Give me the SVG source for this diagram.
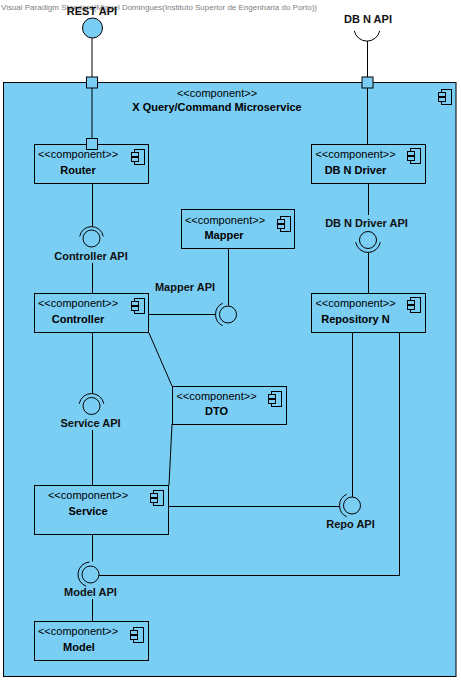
<svg xmlns="http://www.w3.org/2000/svg" xmlns:xlink="http://www.w3.org/1999/xlink" width="461" height="682" viewBox="0 0 461 682">
  <style>
    .box { fill: #7ACEF4; stroke: #000; stroke-width: 1; }
    .port { fill: #7ACEF4; stroke: #000; stroke-width: 1; }
    .ln { fill: none; stroke: #000; stroke-width: 1; }
    .ball { fill: none; stroke: #000; stroke-width: 1; }
    .st { font-family: "Liberation Sans", Arial, sans-serif; font-size: 11px; fill: #000; text-anchor: middle; }
    .nm { font-family: "Liberation Sans", Arial, sans-serif; font-size: 11px; font-weight: bold; fill: #000; text-anchor: middle; }
    .lbl { font-family: "Liberation Sans", Arial, sans-serif; font-size: 11px; font-weight: bold; fill: #111; text-anchor: middle; }
    .wm { font-family: "Liberation Sans", Arial, sans-serif; font-size: 8px; fill: #808080; }
  </style>
  <defs>
    <!-- UML component glyph -->
    <g id="cicon">
      <rect x="3.5" y="0.5" width="10" height="15" class="box"/>
      <rect x="0.5" y="3.5" width="7" height="4" class="box"/>
      <rect x="0.5" y="8.5" width="7" height="4" class="box"/>
    </g>
  </defs>

  <rect width="461" height="682" fill="#ffffff"/>

  <text class="wm" x="1" y="10" textLength="316" lengthAdjust="spacingAndGlyphs">Visual Paradigm Standard(Miguel Domingues(Instituto Superior de Engenharia do Porto))</text>

  <!-- enclosing microservice component -->
  <g id="microservice">
    <rect class="box" x="3.5" y="82.5" width="452.5" height="594"/>
    <use xlink:href="#cicon" x="438" y="89"/>
    <text class="st" x="217" y="97">&lt;&lt;component&gt;&gt;</text>
    <text class="nm" x="217" y="111">X Query/Command Microservice</text>
  </g>

  <!-- connectors -->
  <g id="connectors">
    <!-- REST API -->
    <line class="ln" x1="92" y1="38" x2="92" y2="77"/>
    <line class="ln" x1="92" y1="88" x2="92" y2="139"/>
    <!-- DB N API -->
    <path class="ln" d="M379.7,30.9 A13,13 0 0 1 354.3,30.9"/>
    <line class="ln" x1="367.5" y1="41" x2="367.5" y2="77"/>
    <line class="ln" x1="367.5" y1="88" x2="367.5" y2="144"/>
    <!-- Router - Controller API - Controller -->
    <line class="ln" x1="92.5" y1="183" x2="92.5" y2="226.5"/>
    <line class="ln" x1="92.5" y1="263" x2="92.5" y2="293"/>
    <!-- Controller - Mapper API - Mapper -->
    <line class="ln" x1="149" y1="314.5" x2="216" y2="314.5"/>
    <line class="ln" x1="228.5" y1="248" x2="228.5" y2="305.5"/>
    <!-- DB N Driver - DB N Driver API - Repository N -->
    <line class="ln" x1="368.5" y1="183" x2="368.5" y2="215"/>
    <line class="ln" x1="368.5" y1="252.5" x2="368.5" y2="293"/>
    <!-- Controller - Service API - Service -->
    <line class="ln" x1="92.5" y1="332" x2="92.5" y2="393.5"/>
    <line class="ln" x1="92.5" y1="430" x2="92.5" y2="485"/>
    <!-- DTO links -->
    <line class="ln" x1="149" y1="333" x2="172" y2="386"/>
    <line class="ln" x1="172" y1="424" x2="169" y2="485"/>
    <!-- Service - Repo API - Repository N -->
    <line class="ln" x1="169" y1="506.5" x2="340" y2="506.5"/>
    <line class="ln" x1="352.5" y1="332" x2="352.5" y2="497"/>
    <!-- Service - Model API - Model, Repository N - Model API -->
    <line class="ln" x1="92.5" y1="534" x2="92.5" y2="561.5"/>
    <polyline class="ln" points="399.5,332 399.5,575.5 99,575.5"/>
    <line class="ln" x1="92.5" y1="599" x2="92.5" y2="621"/>
  </g>

  <!-- external interfaces -->
  <g id="rest-api">
    <circle cx="92.5" cy="28" r="10" fill="#7ACEF4" stroke="#000"/>
    <text class="lbl" x="92" y="15">REST API</text>
  </g>
  <g id="db-n-api">
    <text class="lbl" x="368" y="23">DB N API</text>
  </g>

  <!-- inner components -->
  <g id="router">
    <rect class="box" x="34.5" y="144.5" width="114" height="39"/>
    <use xlink:href="#cicon" x="131" y="149"/>
    <text class="st" x="78" y="158">&lt;&lt;component&gt;&gt;</text>
    <text class="nm" x="78" y="173.5">Router</text>
  </g>
  <g id="controller">
    <rect class="box" x="34.5" y="293.5" width="114" height="39"/>
    <use xlink:href="#cicon" x="131" y="298"/>
    <text class="st" x="78" y="307">&lt;&lt;component&gt;&gt;</text>
    <text class="nm" x="78" y="322.5">Controller</text>
  </g>
  <g id="mapper">
    <rect class="box" x="181.5" y="209.5" width="113" height="39"/>
    <use xlink:href="#cicon" x="277" y="216"/>
    <text class="st" x="225" y="224">&lt;&lt;component&gt;&gt;</text>
    <text class="nm" x="224" y="238.5">Mapper</text>
  </g>
  <g id="db-n-driver">
    <rect class="box" x="311.5" y="144.5" width="114" height="39"/>
    <use xlink:href="#cicon" x="407" y="148"/>
    <text class="st" x="355.5" y="158">&lt;&lt;component&gt;&gt;</text>
    <text class="nm" x="355.5" y="173.5">DB N Driver</text>
  </g>
  <g id="repository-n">
    <rect class="box" x="311.5" y="293.5" width="114" height="39"/>
    <use xlink:href="#cicon" x="407" y="297"/>
    <text class="st" x="355.5" y="307">&lt;&lt;component&gt;&gt;</text>
    <text class="nm" x="355.5" y="322.5">Repository N</text>
  </g>
  <g id="dto">
    <rect class="box" x="172.5" y="386.5" width="114" height="38"/>
    <use xlink:href="#cicon" x="268" y="391"/>
    <text class="st" x="216.5" y="400">&lt;&lt;component&gt;&gt;</text>
    <text class="nm" x="216.5" y="414.5">DTO</text>
  </g>
  <g id="service">
    <rect class="box" x="34.5" y="485.5" width="134" height="49"/>
    <use xlink:href="#cicon" x="150" y="490"/>
    <text class="st" x="88" y="499">&lt;&lt;component&gt;&gt;</text>
    <text class="nm" x="88" y="514.5">Service</text>
  </g>
  <g id="model">
    <rect class="box" x="34.5" y="621.5" width="114" height="39"/>
    <use xlink:href="#cicon" x="130" y="627"/>
    <text class="st" x="78" y="635">&lt;&lt;component&gt;&gt;</text>
    <text class="nm" x="79" y="650.5">Model</text>
  </g>

  <!-- ports on the component borders -->
  <g id="ports">
    <rect class="port" x="86.5" y="77" width="11" height="11"/>
    <rect class="port" x="362" y="77" width="11" height="11"/>
    <rect class="port" x="86.5" y="138.5" width="11" height="11"/>
  </g>

  <!-- provided / required interfaces -->
  <g id="controller-api">
    <circle class="ball" cx="91.5" cy="238.5" r="8.5"/>
    <path class="ln" d="M79.7,236.4 A12,12 0 0 1 103.3,236.4"/>
    <text class="lbl" x="91" y="260">Controller API</text>
  </g>
  <g id="mapper-api">
    <circle class="ball" cx="228" cy="314.5" r="8.5"/>
    <path class="ln" d="M222.7,325.8 A12.5,12.5 0 0 1 222.7,303.2"/>
    <text class="lbl" x="185" y="291">Mapper API</text>
  </g>
  <g id="db-n-driver-api">
    <circle class="ball" cx="368" cy="240" r="8.5"/>
    <path class="ln" d="M380.3,242.2 A12.5,12.5 0 0 1 355.7,242.2"/>
    <text class="lbl" x="366.5" y="227">DB N Driver API</text>
  </g>
  <g id="service-api">
    <circle class="ball" cx="91.5" cy="406" r="8.5"/>
    <path class="ln" d="M79.2,403.8 A12.5,12.5 0 0 1 103.8,403.8"/>
    <text class="lbl" x="90.5" y="427">Service API</text>
  </g>
  <g id="repo-api">
    <circle class="ball" cx="352" cy="505.5" r="8.5"/>
    <path class="ln" d="M346.7,516.8 A12.5,12.5 0 0 1 346.7,494.2"/>
    <text class="lbl" x="350.5" y="528">Repo API</text>
  </g>
  <g id="model-api">
    <circle class="ball" cx="90.5" cy="574.5" r="8.5"/>
    <path class="ln" d="M86.2,586.2 A12.5,12.5 0 0 1 89.4,562"/>
    <text class="lbl" x="90.5" y="596">Model API</text>
  </g>
</svg>
